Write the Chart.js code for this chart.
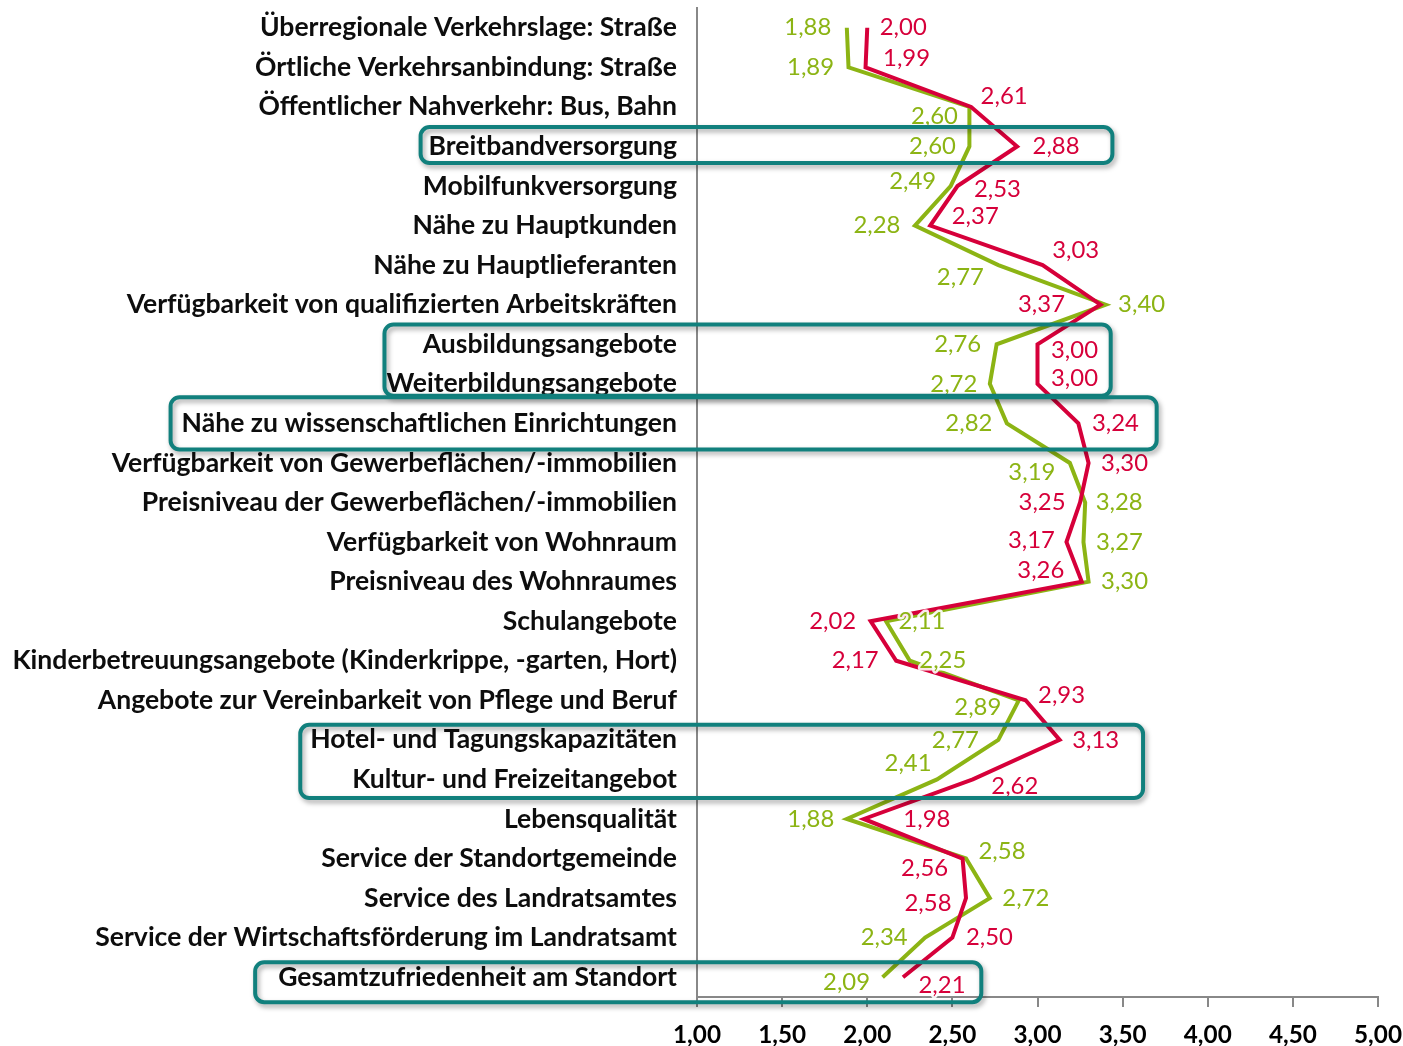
<!DOCTYPE html>
<html>
<head>
<meta charset="utf-8">
<script src="https://cdn.jsdelivr.net/npm/chart.js@4.4.1/dist/chart.umd.min.js"></script>
<style>
  html, body { margin: 0; padding: 0; background: #ffffff; }
  #wrap { width: 1403px; height: 1046px; position: relative; }
</style>
</head>
<body>
<div id="wrap"><canvas id="c" width="1403" height="1046"></canvas></div>
<script>
const categories = [
  "Überregionale Verkehrslage: Straße",
  "Örtliche Verkehrsanbindung: Straße",
  "Öffentlicher Nahverkehr: Bus, Bahn",
  "Breitbandversorgung",
  "Mobilfunkversorgung",
  "Nähe zu Hauptkunden",
  "Nähe zu Hauptlieferanten",
  "Verfügbarkeit von qualifizierten Arbeitskräften",
  "Ausbildungsangebote",
  "Weiterbildungsangebote",
  "Nähe zu wissenschaftlichen Einrichtungen",
  "Verfügbarkeit von Gewerbeflächen/-immobilien",
  "Preisniveau der Gewerbeflächen/-immobilien",
  "Verfügbarkeit von Wohnraum",
  "Preisniveau des Wohnraumes",
  "Schulangebote",
  "Kinderbetreuungsangebote (Kinderkrippe, -garten, Hort)",
  "Angebote zur Vereinbarkeit von Pflege und Beruf",
  "Hotel- und Tagungskapazitäten",
  "Kultur- und Freizeitangebot",
  "Lebensqualität",
  "Service der Standortgemeinde",
  "Service des Landratsamtes",
  "Service der Wirtschaftsförderung im Landratsamt",
  "Gesamtzufriedenheit am Standort"
];

const seriesRed = [2.00, 1.99, 2.61, 2.88, 2.53, 2.37, 3.03, 3.37, 3.00, 3.00, 3.24, 3.30, 3.25, 3.17, 3.26, 2.02, 2.17, 2.93, 3.13, 2.62, 1.98, 2.56, 2.58, 2.50, 2.21];
const seriesGreen = [1.88, 1.89, 2.60, 2.60, 2.49, 2.28, 2.77, 3.40, 2.76, 2.72, 2.82, 3.19, 3.28, 3.27, 3.30, 2.11, 2.25, 2.89, 2.77, 2.41, 1.88, 2.58, 2.72, 2.34, 2.09];

const tickValues = [1.00, 1.50, 2.00, 2.50, 3.00, 3.50, 4.00, 4.50, 5.00];

const highlightGroups = [
  ["Breitbandversorgung"],
  ["Ausbildungsangebote", "Weiterbildungsangebote"],
  ["Nähe zu wissenschaftlichen Einrichtungen"],
  ["Hotel- und Tagungskapazitäten", "Kultur- und Freizeitangebot"],
  ["Gesamtzufriedenheit am Standort"]
];

// ---- styling ----
const RED = '#D6003A';
const GREEN = '#8CB414';
const TEAL = '#11807D';
const AXIS = '#888888';
const FAMILY = 'Lato, "Open Sans", sans-serif';

function fitSize(weight, text, target) {
  const c = document.createElement('canvas').getContext('2d');
  c.font = weight + ' 100px ' + FAMILY;
  return 100 * target / c.measureText(text).width;
}
const catSize = fitSize('bold', categories[16], 665);
const valSize = fitSize('normal', '2,00', 47);
const tickSize = fitSize('bold', '1,00', 48);

const fmt = v => v.toFixed(2).replace('.', ',');

// label offsets (px) relative to point: [dx, dy]
const labelOffsets = [
  // red
  [[36,0],[41,-9],[33,-11],[39,0],[40,3],[45,-9],[33,-15],[-59,0],[37,6],[37,-6],[37,0],[36,0],[-38,0],[-35,-2],[-41,-11],[-38,0],[-41,0],[36,-5],[36,0],[42,7],[63,0],[-38,10],[-38,5],[37,0],[39,8]],
  // green
  [[-39,0],[-38,0],[-35,9],[-37,0],[-38,-5],[-38,0],[-38,12],[36,0],[-39,0],[-36,0],[-38,0],[-38,9],[34,0],[36,0],[36,0],[36,0],[33,0],[-41,7],[-43,0],[-29,-16],[-36,0],[36,-7],[36,0],[-41,0],[-36,5]]
];

// box geometry: [leftPad px, top (row fraction), bottom (row fraction), right value]
const boxStyle = [
  [8, -0.49, 0.42, 3.44],
  [2, -0.50, 0.30, 3.43],
  [11, -0.66, 0.66, 3.70],
  [10, -0.38, 0.47, 3.62],
  [23, -0.38, 0.63, 2.67]
];

const overlayPlugin = {
  id: 'overlay',
  afterDatasetsDraw(chart) {
    const ctx = chart.ctx;
    const xs = chart.scales.x, ys = chart.scales.y;
    // value labels
    ctx.save();
    ctx.font = 'normal ' + valSize.toFixed(2) + 'px ' + FAMILY;
    ctx.textAlign = 'center';
    ctx.textBaseline = 'middle';
    ctx.lineJoin = 'round';
    chart.data.datasets.forEach((ds, di) => {
      const meta = chart.getDatasetMeta(di);
      meta.data.forEach((pt, i) => {
        const off = labelOffsets[di][i];
        const x = pt.x + off[0], y = pt.y + off[1];
        const t = fmt(ds.data[i]);
        ctx.strokeStyle = 'rgba(255,255,255,0.9)';
        ctx.lineWidth = 5;
        ctx.strokeText(t, x, y);
        ctx.fillStyle = ds.borderColor;
        ctx.fillText(t, x, y);
      });
    });
    ctx.restore();

    // highlight boxes
    const rowH = ys.getPixelForValue(1) - ys.getPixelForValue(0);
    ctx.save();
    ctx.font = 'bold ' + catSize.toFixed(2) + 'px ' + FAMILY;
    const labelRight = ys.right - ys.options.ticks.padding;
    highlightGroups.forEach((grp, gi) => {
      const st = boxStyle[gi];
      const idx = grp.map(n => categories.indexOf(n));
      const w = Math.max(...grp.map(n => ctx.measureText(n).width));
      const left = labelRight - w - st[0];
      const top = ys.getPixelForValue(Math.min(...idx)) + st[1] * rowH;
      const bottom = ys.getPixelForValue(Math.max(...idx)) + st[2] * rowH;
      const right = xs.getPixelForValue(st[3]);
      ctx.save();
      ctx.shadowColor = 'rgba(0,0,0,0.35)';
      ctx.shadowBlur = 5;
      ctx.shadowOffsetX = 2;
      ctx.shadowOffsetY = 3;
      ctx.strokeStyle = TEAL;
      ctx.lineWidth = 4;
      ctx.beginPath();
      ctx.roundRect(left, top, right - left, bottom - top, 9);
      ctx.stroke();
      ctx.restore();
    });
    ctx.restore();
  }
};

new Chart(document.getElementById('c'), {
  type: 'line',
  data: {
    labels: categories,
    datasets: [
      { label: 'Rot', data: seriesRed, borderColor: RED, backgroundColor: RED, borderWidth: 4, pointRadius: 0, tension: 0, fill: false, borderJoinStyle: 'miter' },
      { label: 'Grün', data: seriesGreen, borderColor: GREEN, backgroundColor: GREEN, borderWidth: 4, pointRadius: 0, tension: 0, fill: false, borderJoinStyle: 'miter' }
    ]
  },
  options: {
    indexAxis: 'y',
    responsive: false,
    animation: false,
    devicePixelRatio: 1,
    layout: { padding: { left: 0, right: 25, top: 8, bottom: 0 } },
    plugins: { legend: { display: false }, tooltip: { enabled: false } },
    scales: {
      x: {
        type: 'linear',
        position: 'bottom',
        min: 1, max: 5,
        afterBuildTicks: s => { s.ticks = tickValues.map(v => ({ value: v })); },
        afterFit: s => { s.height = 49; s.paddingLeft = 0; s.paddingRight = 0; s.paddingTop = 0; s.paddingBottom = 0; },
        grid: { display: true, drawOnChartArea: false, drawTicks: true, tickLength: 10, color: AXIS, lineWidth: 2 },
        border: { display: true, color: AXIS, width: 2 },
        ticks: {
          padding: 14,
          color: '#000000',
          font: { family: FAMILY, weight: 'bold', size: tickSize },
          callback: v => fmt(v),
          maxRotation: 0
        }
      },
      y: {
        type: 'category',
        position: 'left',
        offset: true,
        afterFit: s => { s.width = 697; s.paddingLeft = 0; s.paddingRight = 0; s.paddingTop = 0; s.paddingBottom = 0; },
        grid: { display: false, drawTicks: false },
        border: { display: true, color: AXIS, width: 2 },
        ticks: {
          padding: 20,
          color: '#0d0d0d',
          autoSkip: false,
          font: { family: FAMILY, weight: 'bold', size: catSize }
        }
      }
    }
  },
  plugins: [overlayPlugin]
});
</script>
</body>
</html>
